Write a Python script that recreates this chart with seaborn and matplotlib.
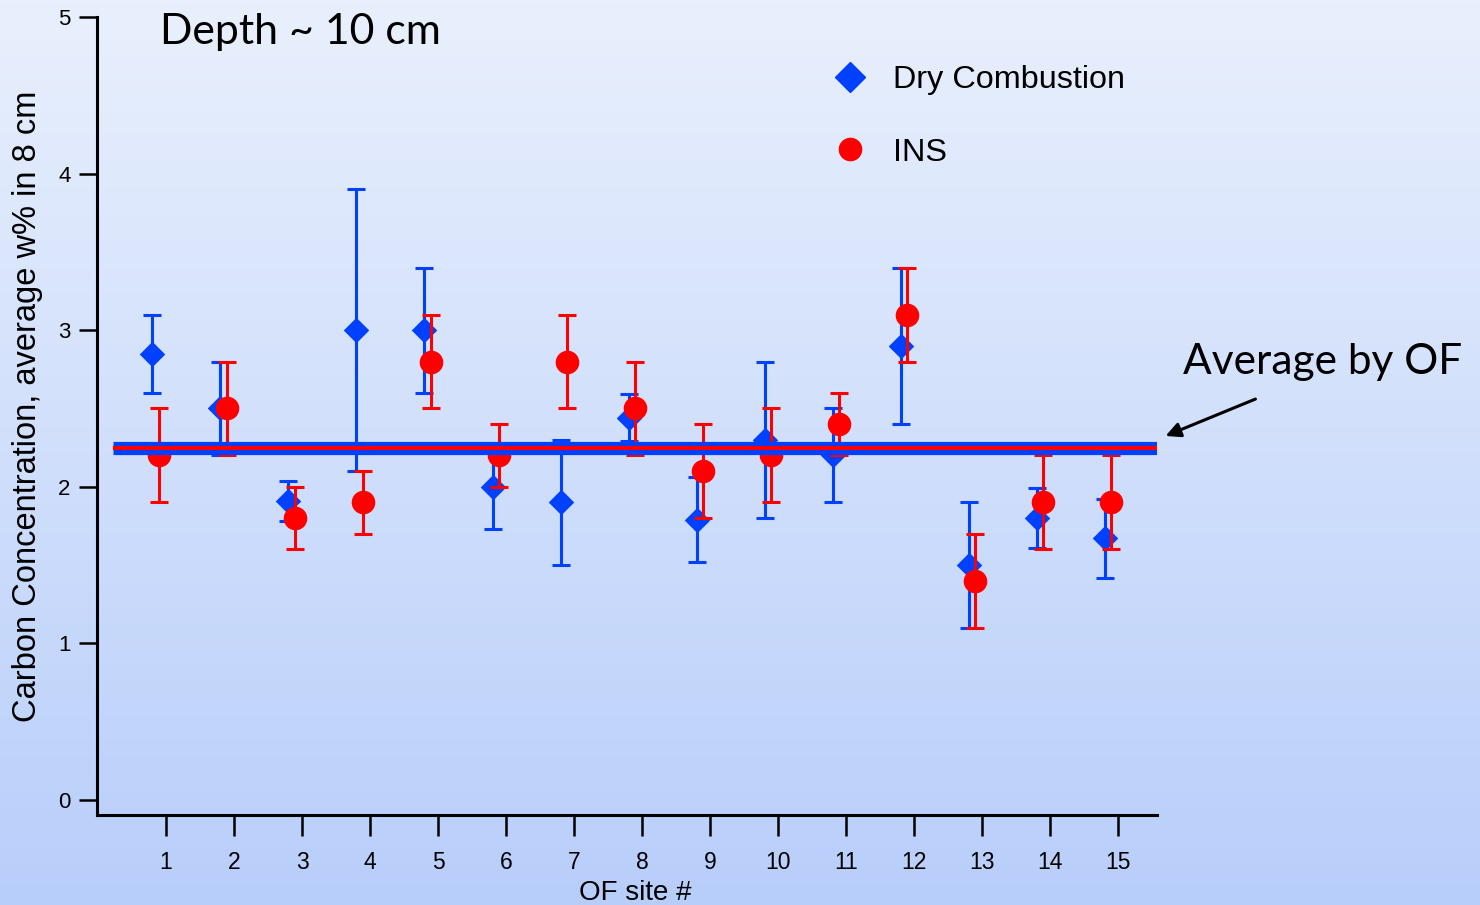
import numpy as np
import pandas as pd
import matplotlib
matplotlib.use("Agg")
import matplotlib.pyplot as plt
from matplotlib.lines import Line2D
from matplotlib.colors import LinearSegmentedColormap
import seaborn as sns

# ---- data ----
sites = [1, 2, 3, 4, 5, 6, 7, 8, 9, 10, 11, 12, 13, 14, 15]
dry_mean = [2.85, 2.50, 1.91, 3.00, 3.00, 2.00, 1.90, 2.44, 1.79, 2.30, 2.20, 2.90, 1.50, 1.80, 1.67]
dry_err = [0.25, 0.30, 0.13, 0.90, 0.40, 0.27, 0.40, 0.15, 0.27, 0.50, 0.30, 0.50, 0.40, 0.19, 0.25]
ins_mean = [2.2, 2.5, 1.8, 1.9, 2.8, 2.2, 2.8, 2.5, 2.1, 2.2, 2.4, 3.1, 1.4, 1.9, 1.9]
ins_err = [0.3, 0.3, 0.2, 0.2, 0.3, 0.2, 0.3, 0.3, 0.3, 0.3, 0.2, 0.3, 0.3, 0.3, 0.3]
series_names = ["Dry Combustion", "INS"]
yticks = [0, 1, 2, 3, 4, 5]

BLUE = "#0040ff"
RED = "#ff0000"

sns.set_theme(style="ticks")
plt.rcParams["font.family"] = ["Liberation Sans", "DejaVu Sans"]
plt.rcParams["text.color"] = "black"
plt.rcParams["axes.labelcolor"] = "black"
plt.rcParams["xtick.color"] = "black"
plt.rcParams["ytick.color"] = "black"

W, H = 1480, 905
fig = plt.figure(figsize=(W / 100, H / 100), dpi=100)

# gradient background
bg = fig.add_axes([0, 0, 1, 1], zorder=-10)
cmap = LinearSegmentedColormap.from_list("bg", ["#e9f0fd", "#b8cefa"])
bg.imshow(np.linspace(0, 1, 256).reshape(-1, 1), aspect="auto", cmap=cmap,
          extent=[0, 1, 0, 1])
bg.set_axis_off()

left, right, top, bottom = 97 / W, 1157 / W, 17 / H, 815 / H
ax = fig.add_axes([left, 1 - bottom, right - left, bottom - top])
ax.set_facecolor("none")

df_dry = pd.DataFrame({"site": sites, "value": dry_mean, "err": dry_err})
df_ins = pd.DataFrame({"site": sites, "value": ins_mean, "err": ins_err})
df_dry["xpos"] = df_dry["site"] - 0.2
df_ins["xpos"] = df_ins["site"] - 0.1

# Dry combustion
ax.errorbar(df_dry["xpos"], df_dry["value"], yerr=df_dry["err"], fmt="none",
            ecolor=BLUE, elinewidth=2.2, capsize=6.5, capthick=2.2, zorder=2)
sns.scatterplot(data=df_dry, x="xpos", y="value", marker="D", s=13 ** 2,
                color=BLUE, linewidth=0, ax=ax, zorder=3, legend=False)
# INS
ax.errorbar(df_ins["xpos"], df_ins["value"], yerr=df_ins["err"], fmt="none",
            ecolor=RED, elinewidth=2.2, capsize=6.5, capthick=2.2, zorder=4)
sns.scatterplot(data=df_ins, x="xpos", y="value", marker="o", s=17 ** 2,
                color=RED, linewidth=0, ax=ax, zorder=5, legend=False)

# averages
xmin_line, xmax = 0.22, 15.57
ax.hlines(np.mean(dry_mean), xmin_line, xmax, color=BLUE, lw=9.5, zorder=6)
ax.hlines(np.mean(ins_mean), xmin_line, xmax, color=RED, lw=3, zorder=7)

ax.set_xlim(-0.015, xmax)
ax.set_ylim(-0.096, 5)
ax.set_xticks(sites)
ax.set_xticklabels([str(s) for s in sites])
ax.set_yticks(yticks)
ax.set_yticklabels([str(t) for t in yticks])
sns.despine(ax=ax, top=True, right=True)
for sp in ["left", "bottom"]:
    ax.spines[sp].set_linewidth(2.2)
    ax.spines[sp].set_color("black")
ax.spines["left"].set_bounds(-0.096, 5)
ax.tick_params(axis="x", length=15, width=1.8, pad=11, labelsize=16.5, colors="black")
ax.tick_params(axis="y", length=13, width=1.8, pad=6, labelsize=16, colors="black")
ax.set_xlabel("")
ax.set_ylabel("")

fig.text(635 / W, 1 - 893 / H, "OF site #", ha="center", va="center",
         fontsize=20, color="black")
fig.text(28 / W, 1 - 406 / H, "Carbon Concentration, average w% in 8 cm",
         rotation=90, ha="center", va="center", fontsize=23.5, color="black")

fig.text(160 / W, 1 - 32 / H, "Depth ~ 10 cm", ha="left", va="center",
         fontsize=30.8, family=["Lato", "DejaVu Sans"], color="black")
fig.text(1183 / W, 1 - 362 / H, "Average by OF", ha="left", va="center",
         fontsize=30.5, family=["Lato", "DejaVu Sans"], color="black")
ax.annotate("", xy=(1163, H - 437), xycoords="figure pixels",
            xytext=(1258, H - 398), textcoords="figure pixels",
            arrowprops=dict(arrowstyle="-|>", color="black", lw=2.2,
                            mutation_scale=22),
            annotation_clip=False)

handles = [
    Line2D([], [], marker="D", color=BLUE, linestyle="none", markersize=15),
    Line2D([], [], marker="o", color=RED, linestyle="none", markersize=16),
]
leg = ax.legend(handles, series_names, loc="upper left",
                bbox_to_anchor=(834 / W, 1 - 65 / H), bbox_transform=fig.transFigure,
                frameon=False, fontsize=23.3, handlelength=1.0, handletextpad=0.82,
                labelspacing=1.32, borderpad=0, borderaxespad=0)
for t in leg.get_texts():
    t.set_color("black")

fig.savefig("out.png", dpi=100)
